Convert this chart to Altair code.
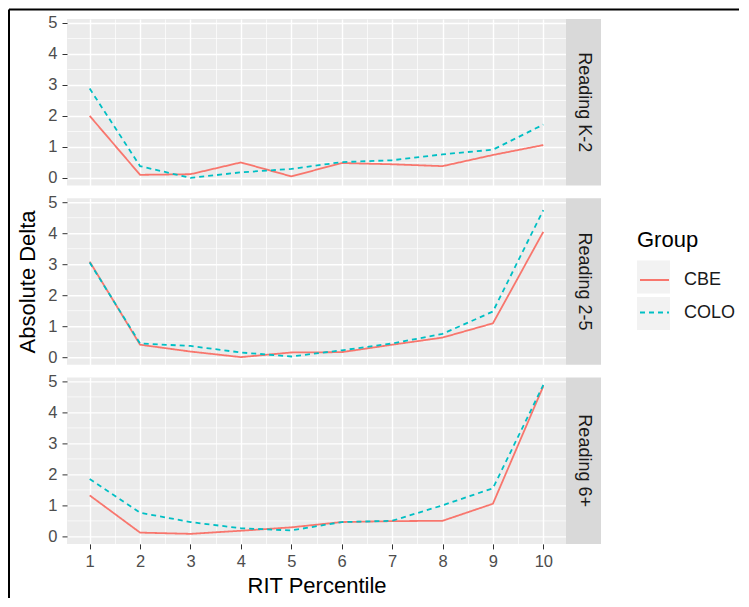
import altair as alt
import pandas as pd

percentile = [1, 2, 3, 4, 5, 6, 7, 8, 9, 10]
grades = ["Reading K-2", "Reading 2-5", "Reading 6+"]
groups = ["CBE", "COLO"]
colors = ["#F8766D", "#00BFC4"]

k2_cbe = [2.00, 0.10, 0.12, 0.50, 0.05, 0.48, 0.44, 0.38, 0.74, 1.06]
k2_colo = [2.88, 0.38, 0.00, 0.18, 0.29, 0.51, 0.57, 0.76, 0.91, 1.72]
g25_cbe = [3.08, 0.40, 0.18, 0.00, 0.15, 0.16, 0.40, 0.63, 1.09, 4.04]
g25_colo = [3.05, 0.44, 0.36, 0.15, 0.02, 0.22, 0.44, 0.75, 1.47, 4.74]
g6_cbe = [1.32, 0.12, 0.08, 0.18, 0.29, 0.46, 0.49, 0.50, 1.05, 4.84]
g6_colo = [1.85, 0.76, 0.46, 0.26, 0.19, 0.46, 0.50, 1.00, 1.55, 4.88]

y_ticks = [0, 1, 2, 3, 4, 5]
x_minor = [1.5, 2.5, 3.5, 4.5, 5.5, 6.5, 7.5, 8.5, 9.5]
y_minor = [0.5, 1.5, 2.5, 3.5, 4.5]

series = {
    "Reading K-2": (k2_cbe, k2_colo),
    "Reading 2-5": (g25_cbe, g25_colo),
    "Reading 6+": (g6_cbe, g6_colo),
}
rows = []
for g in grades:
    cbe, colo = series[g]
    for p, a, b in zip(percentile, cbe, colo):
        rows.append({"Grade": g, "Percentile": p, "Group": "CBE", "Delta": a})
        rows.append({"Grade": g, "Percentile": p, "Group": "COLO", "Delta": b})
df = pd.DataFrame(rows)

FONT = "Liberation Sans"
W, H = 499, 166.5
STRIP = 35
XD = [0.55, 10.45]
YD = [-0.244, 5.124]
LINE_W = 1.8

# line legend (drawn on top of the key boxes)
legend = alt.Legend(
    title=None, orient="none", legendX=572, legendY=245.5, zindex=2,
    symbolType="stroke", symbolSize=841, symbolStrokeWidth=LINE_W,
    labelFontSize=18, labelFont=FONT, labelColor="#1A1A1A", labelOffset=14,
    rowPadding=7.5,
)
# grey key boxes legend (underneath), carries the title
key_legend = alt.Legend(
    title="Group", orient="none", legendX=570, legendY=211, zindex=1,
    symbolType="square", symbolSize=1089, symbolStrokeWidth=0,
    titleFontSize=22, titleFont=FONT, titleFontWeight="normal", titleColor="#000000",
    labelExpr="''", labelFontSize=18, labelFont=FONT,
    titlePadding=8.5, rowPadding=3.5,
)


def panel(i, grade):
    d = df[df.Grade == grade]
    sd = pd.DataFrame({"Grade": [grade]})
    xs = alt.Scale(domain=XD, nice=False, zero=False)
    ys = alt.Scale(domain=YD, nice=False, zero=False)
    last = i == 2
    minor = alt.Chart(d).mark_point(opacity=0).encode(
        x=alt.X("Percentile:Q", scale=xs, axis=alt.Axis(
            orient="top", values=x_minor, grid=True, gridColor="white", gridWidth=0.7,
            labels=False, ticks=False, domain=False, title=None)),
        y=alt.Y("Delta:Q", scale=ys, axis=alt.Axis(
            orient="right", values=y_minor, grid=True, gridColor="white", gridWidth=0.7,
            labels=False, ticks=False, domain=False, title=None)),
    )
    xaxis = alt.Axis(
        orient="bottom", values=percentile, grid=True, gridColor="white", gridWidth=1.4,
        domain=False, labels=last, ticks=last, tickSize=5, tickColor="#333333",
        labelFontSize=16.5, labelColor="#4D4D4D", labelFont=FONT, labelPadding=5,
        title="RIT Percentile" if last else None,
        titleFontSize=22, titleFont=FONT, titleFontWeight="normal", titleColor="#000000",
        titlePadding=5,
    )
    yaxis = alt.Axis(
        orient="left", values=y_ticks, grid=True, gridColor="white", gridWidth=1.4,
        domain=False, tickSize=5, tickColor="#333333",
        labelFontSize=16.5, labelColor="#4D4D4D", labelFont=FONT, labelPadding=5,
        title="Absolute Delta" if i == 1 else None,
        titleFontSize=22, titleFont=FONT, titleFontWeight="normal", titleColor="#000000",
        titlePadding=8,
    )
    lines = alt.Chart(d).mark_line(strokeWidth=LINE_W).encode(
        x=alt.X("Percentile:Q", scale=xs, axis=xaxis),
        y=alt.Y("Delta:Q", scale=ys, axis=yaxis),
        color=alt.Color("Group:N", scale=alt.Scale(domain=groups, range=colors), legend=legend),
        strokeDash=alt.StrokeDash("Group:N", scale=alt.Scale(domain=groups, range=[[1, 0], [5, 4]]), legend=legend),
    )
    strip = alt.Chart(sd).mark_rect(color="#D9D9D9").encode(
        x=alt.value(W), x2=alt.value(W + STRIP), y=alt.value(0), y2=alt.value(H)
    )
    stext = alt.Chart(sd).mark_text(angle=90, fontSize=18, font=FONT, color="#1A1A1A").encode(
        x=alt.value(W + STRIP / 2), y=alt.value(H / 2), text="Grade:N"
    )
    layers = [minor]
    if i == 0:
        keys = alt.Chart(d).transform_calculate(
            Key="datum.Group + ' '"
        ).mark_point(filled=True, color="#F2F2F2", opacity=1, size=4).encode(
            x=alt.value(W + STRIP / 2), y=alt.value(H / 2),
            shape=alt.Shape("Key:N", scale=alt.Scale(domain=[g + " " for g in groups], range=["square", "square"]), legend=key_legend),
        )
        layers.append(keys)
    layers += [lines, strip, stext]
    if i == 0:
        top_rule = alt.Chart(sd).mark_rule(color="black", strokeWidth=2).encode(
            x=alt.value(-58), x2=alt.value(672), y=alt.value(-9.5)
        )
        left_rule = alt.Chart(sd).mark_rule(color="black", strokeWidth=2).encode(
            x=alt.value(-58), y=alt.value(-9.5), y2=alt.value(579)
        )
        layers += [top_rule, left_rule]
    return alt.layer(*layers).properties(
        width=W, height=H, view=alt.ViewBackground(fill="#EBEBEB", strokeWidth=0)
    ).resolve_axis(x="independent", y="independent")


panels = [panel(i, g) for i, g in enumerate(grades)]
chart = alt.vconcat(*panels, spacing=12.2, bounds="flush").resolve_scale(
    color="shared", strokeDash="shared", shape="shared"
).properties(padding=0).configure_view(fill="#EBEBEB", strokeWidth=0).configure(background="white")

chart.save("out.html", embed_options={"renderer": "svg", "actions": False})
